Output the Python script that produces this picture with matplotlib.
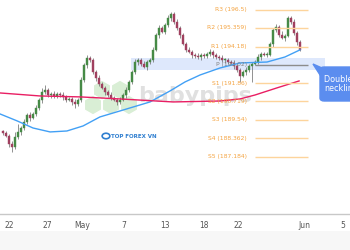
import matplotlib
matplotlib.use("Agg")
import matplotlib.pyplot as plt
from matplotlib.patches import Rectangle, RegularPolygon, Polygon, FancyBboxPatch
import numpy as np

# candle closes (4h bars)
closes = [188.71, 188.52, 188.01, 187.82, 188.45, 188.77, 189.02, 189.40, 189.85, 189.66,
          189.91, 190.29, 190.80, 191.30, 191.43, 191.11, 191.18, 191.05, 191.18, 191.11,
          190.99, 190.80, 190.86, 190.67, 190.54, 190.80, 192.06, 193.01, 193.46, 193.33,
          192.57, 192.19, 191.81, 191.56, 191.30, 191.11, 190.92, 190.80, 190.67, 190.80,
          191.11, 191.43, 191.94, 192.57, 193.20, 193.33, 193.08, 192.89, 193.20, 193.33,
          193.97, 194.92, 195.36, 195.11, 195.55, 195.99, 196.25, 195.74, 195.36, 194.92,
          194.35, 193.97, 193.84, 193.65, 193.58, 193.52, 193.65, 193.58, 193.71, 193.84,
          193.65, 193.52, 193.46, 193.33, 193.33, 193.20, 193.14, 192.95, 192.70, 192.32,
          192.57, 192.70, 192.95, 193.08, 193.20, 193.52, 193.71, 193.65, 193.65, 194.35,
          195.23, 195.42, 194.92, 194.73, 194.86, 195.99, 195.74, 195.04, 194.47, 193.97]
upper_wick = [0.10, 0.15, 0.10, 0.20, 0.30, 0.50, 0.15, 0.20, 0.10, 0.20,
              0.15, 0.20, 0.10, 0.25, 0.30, 0.15, 0.10, 0.20, 0.15, 0.10,
              0.20, 0.10, 0.15, 0.10, 0.20, 0.10, 0.20, 0.15, 0.20, 0.10,
              0.15, 0.10, 0.20, 0.10, 0.15, 0.10, 0.20, 0.10, 0.15, 0.20,
              0.10, 0.20, 0.15, 0.10, 0.20, 0.15, 0.10, 0.20, 0.15, 0.10,
              0.20, 0.10, 0.20, 0.15, 0.10, 0.20, 0.15, 0.10, 0.20, 0.10,
              0.15, 0.10, 0.20, 0.10, 0.15, 0.20, 0.10, 0.15, 0.10, 0.20,
              0.10, 0.15, 0.10, 0.20, 0.10, 0.15, 0.10, 0.20, 0.10, 0.15,
              0.10, 0.20, 0.10, 0.15, 0.10, 0.20, 0.15, 0.10, 0.20, 0.10,
              0.15, 0.20, 0.10, 0.25, 0.10, 0.15, 0.10, 0.20, 0.10, 0.15]
lower_wick = [0.15, 0.10, 0.20, 0.30, 0.10, 0.15, 0.20, 0.10, 0.15, 0.20,
              0.10, 0.15, 0.10, 0.20, 0.10, 0.15, 0.20, 0.10, 0.15, 0.10,
              0.20, 0.15, 0.10, 0.20, 0.25, 0.10, 0.15, 0.10, 0.20, 0.15,
              0.10, 0.20, 0.15, 0.10, 0.20, 0.10, 0.15, 0.10, 0.20, 0.15,
              0.10, 0.20, 0.10, 0.15, 0.10, 0.20, 0.15, 0.10, 0.20, 0.10,
              0.15, 0.10, 0.20, 0.10, 0.15, 0.10, 0.20, 0.15, 0.10, 0.20,
              0.10, 0.15, 0.10, 0.20, 0.15, 0.10, 0.20, 0.10, 0.15, 0.10,
              0.20, 0.10, 0.15, 0.10, 0.20, 0.15, 0.10, 0.20, 0.15, 0.40,
              0.10, 0.20, 0.15, 1.00, 0.10, 0.15, 0.20, 0.10, 0.15, 0.10,
              0.20, 0.10, 0.15, 0.10, 0.20, 0.10, 0.15, 0.10, 0.20, 0.10]
first_open = 188.80

# moving averages (bar index, price)
ma_blue_x = [-1, 4.7, 10, 15.7, 21.3, 26.7, 32.3, 39, 49, 55.7, 60.7, 65.7, 72.3, 79, 88, 94, 99]
ma_blue_y = [189.91, 189.47, 189.02, 188.77, 188.83, 189.15, 189.72, 190.10, 190.67, 191.37,
             191.94, 192.38, 192.82, 193.14, 193.20, 193.52, 193.97]
ma_red_x = [-1, 12.3, 25.7, 39, 56.7, 72.3, 79, 84, 91.3, 98.7]
ma_red_y = [191.24, 191.05, 190.99, 190.86, 190.67, 190.73, 190.86, 191.11, 191.56, 192.00]

# pivot levels
pivot_names = ["R3", "R2", "R1", "P", "S1", "S2", "S3", "S4", "S5"]
pivot_vals = [196.5, 195.359, 194.18, 193.02, 191.86, 190.719, 189.54, 188.362, 187.184]
pivot_labels = ["R3 (196.5)", "R2 (195.359)", "R1 (194.18)", "P (193.02)", "S1 (191.86)",
                "S2 (190.719)", "S3 (189.54)", "S4 (188.362)", "S5 (187.184)"]

tick_pos = [2, 14.7, 26.3, 40.3, 54, 67, 78.3, 100.3, 113.3]
tick_labels = ["22", "27", "May", "7", "13", "18", "22", "Jun", "5"]

zone_low, zone_high = 192.70, 193.46

fig = plt.figure(figsize=(3.5, 2.5), dpi=100)

# background overlay in pixel coordinates for watermark
bg = fig.add_axes([0, 0, 1, 1], zorder=0)
bg.set_xlim(0, 350)
bg.set_ylim(250, 0)
bg.axis("off")
bg.add_patch(Rectangle((0, 231), 350, 19, color="#f7f7f7", lw=0))
for cx, cy in [(102, 90), (120, 90), (111, 105), (93, 105), (129, 105)]:
    bg.add_patch(RegularPolygon((cx, cy), 6, radius=10, orientation=0,
                                facecolor="#d9eed5", edgecolor="white", lw=1))
bg.text(138, 96, "babypips", fontsize=16, fontweight="bold", color="#e0e0e0",
        va="center", ha="left")

ax = fig.add_axes([0, 36 / 250, 1, 214 / 250], zorder=1)
ax.set_facecolor("none")

n = len(closes)
idx = np.arange(n)
opens = [first_open] + closes[:-1]
for i in range(n):
    o, c = opens[i], closes[i]
    hi = max(o, c) + upper_wick[i]
    lo = min(o, c) - lower_wick[i]
    col = "#468a46" if c >= o else "#a0405f"
    ax.vlines(idx[i], lo, hi, color="#666666", lw=0.5, zorder=3)
    ax.add_patch(Rectangle((idx[i] - 0.3, min(o, c)), 0.6, max(abs(c - o), 0.03),
                           facecolor=col, edgecolor=col, lw=0.3, zorder=4))

ax.plot(ma_blue_x, ma_blue_y, color="#42a0f5", lw=1.0, zorder=5)
ax.plot(ma_red_x, ma_red_y, color="#e91e63", lw=1.0, zorder=5)

# neckline zone
ax.add_patch(Rectangle((42.7, zone_low), 107.3 - 42.7, zone_high - zone_low,
                       facecolor="#c9d9fa", alpha=0.6, lw=0, zorder=2))

for name, val, lab in zip(pivot_names, pivot_vals, pivot_labels):
    lc = "#8c8c8c" if name == "P" else "#fdd49c"
    tc = "#808080" if name == "P" else "#f4a340"
    ax.hlines(val, 84, 101.7, color=lc, lw=1.0, zorder=6)
    ax.text(81.3, val, lab, color=tc, fontsize=4.3, ha="right", va="center", zorder=6)

ax.set_xlim(-1, 115.67)
ax.set_ylim(183.57, 197.13)
ax.set_xticks(tick_pos)
ax.set_xticklabels(tick_labels)
ax.tick_params(axis="x", length=0, labelsize=5.5, labelcolor="#555555", pad=5)
ax.set_yticks([])
for s in ["top", "left", "right"]:
    ax.spines[s].set_visible(False)
ax.spines["bottom"].set_color("#c8c8c8")
ax.spines["bottom"].set_linewidth(1)

# logo
fig.text(111 / 350, 1 - 137 / 250, "TOP FOREX VN", fontsize=4, fontweight="bold",
         color="#2f7fd0", va="center", ha="left")
fig.patches.append(plt.Circle((106 / 350, 1 - 136 / 250), 0.011, transform=fig.transFigure,
                              color="#2f7fd0", fill=False, lw=1.2))

# callout
fig.patches.append(Polygon([[313 / 350, 1 - 64 / 250], [322 / 350, 1 - 68 / 250],
                            [322 / 350, 1 - 78 / 250]], closed=True,
                           transform=fig.transFigure, color="#5b8def", zorder=7))
fig.patches.append(FancyBboxPatch((320 / 350, 1 - 101 / 250), 40 / 350, 34 / 250,
                                  boxstyle="round,pad=0,rounding_size=0.012",
                                  transform=fig.transFigure, color="#5b8def", zorder=7))
fig.text(324 / 350, 1 - 84 / 250, "Double top\nneckline", fontsize=5.8, color="white",
         va="center", ha="left", linespacing=1.0, zorder=8)

fig.savefig("out.png", dpi=100)
